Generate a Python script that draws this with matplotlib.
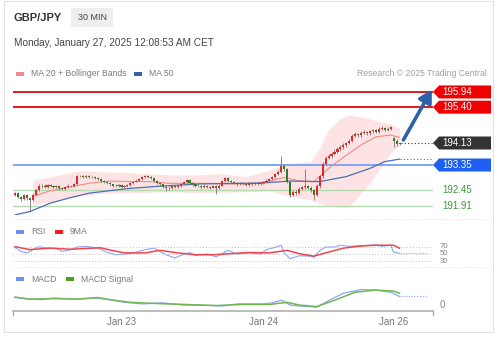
import numpy as np
import matplotlib
matplotlib.use("Agg")
import matplotlib.pyplot as plt
from matplotlib.patches import Polygon, Rectangle
from matplotlib.lines import Line2D
from matplotlib.transforms import blended_transform_factory

plt.rcParams['font.family'] = ['Liberation Sans', 'DejaVu Sans']

W, H = 504, 341

# --- 30 min candles, bar index 0..130 (Sunday session starts at 128)
closes = [
    192.35, 192.22, 192.15, 192.28, 192.18, 192.12, 192.30, 192.45, 192.60, 192.62,
    192.58, 192.63, 192.60, 192.57, 192.61, 192.52, 192.50, 192.58, 192.62, 192.60,
    192.66, 192.95, 192.96, 192.93, 192.95, 192.92, 192.93, 192.90, 192.86, 192.80,
    192.74, 192.70, 192.66, 192.62, 192.60, 192.63, 192.58, 192.61, 192.64, 192.70,
    192.76, 192.80, 192.86, 192.92, 192.95, 192.93, 192.88, 192.80, 192.72, 192.66,
    192.58, 192.52, 192.55, 192.60, 192.58, 192.62, 192.66, 192.75, 192.82, 192.70,
    192.66, 192.62, 192.60, 192.56, 192.62, 192.58, 192.55, 192.60, 192.52, 192.62,
    192.78, 192.88, 192.80, 192.74, 192.70, 192.66, 192.72, 192.68, 192.64, 192.70,
    192.66, 192.70, 192.68, 192.72, 192.76, 192.80, 192.86, 192.92, 193.02, 193.10,
    193.30, 193.20, 192.75, 192.30, 192.40, 192.36, 192.50, 192.56, 192.60, 192.55,
    192.45, 192.30, 192.60, 192.95, 193.40, 193.60, 193.66, 193.75, 193.82, 193.90,
    193.98, 194.05, 194.12, 194.20, 194.38, 194.45, 194.40, 194.48, 194.52, 194.47,
    194.55, 194.58, 194.53, 194.62, 194.66, 194.60, 194.64, 194.68, 194.20, 194.08,
    194.13]
highs = [
    192.40, 192.38, 192.26, 192.32, 192.31, 192.22, 192.34, 192.49, 192.66, 192.68,
    192.66, 192.67, 192.66, 192.64, 192.65, 192.63, 192.56, 192.61, 192.66, 192.65,
    192.70, 192.99, 193.00, 192.99, 192.99, 192.98, 192.97, 192.96, 192.93, 192.88,
    192.83, 192.77, 192.73, 192.69, 192.66, 192.67, 192.66, 192.65, 192.68, 192.74,
    192.80, 192.84, 192.90, 192.96, 192.99, 192.98, 192.96, 192.90, 192.82, 192.75,
    192.69, 192.61, 192.59, 192.64, 192.63, 192.66, 192.70, 192.79, 192.87, 192.84,
    192.73, 192.69, 192.66, 192.63, 192.66, 192.65, 192.62, 192.64, 192.63, 192.66,
    192.82, 192.93, 192.91, 192.83, 192.77, 192.73, 192.76, 192.75, 192.71, 192.74,
    192.73, 192.74, 192.74, 192.76, 192.80, 192.84, 192.90, 192.96, 193.06, 193.16,
    193.68, 193.40, 193.24, 192.80, 192.46, 192.45, 192.56, 192.62, 193.20, 192.65,
    192.60, 192.50, 192.66, 193.00, 193.46, 193.68, 193.74, 193.82, 193.90, 193.98,
    194.05, 194.12, 194.18, 194.27, 194.44, 194.52, 194.50, 194.54, 194.58, 194.56,
    194.60, 194.64, 194.62, 194.70, 194.72, 194.69, 194.69, 194.72, 194.34, 194.26,
    194.18]
lows = [
    192.25, 192.17, 192.08, 192.12, 192.12, 191.69, 192.08, 192.27, 192.42, 192.55,
    192.54, 192.55, 192.56, 192.53, 192.54, 192.48, 192.46, 192.47, 192.55, 192.56,
    192.57, 192.63, 192.91, 192.89, 192.90, 192.88, 192.89, 192.86, 192.82, 192.76,
    192.70, 192.66, 192.62, 192.58, 192.56, 192.57, 192.54, 192.55, 192.58, 192.61,
    192.67, 192.73, 192.77, 192.83, 192.89, 192.89, 192.84, 192.76, 192.68, 192.62,
    192.54, 192.44, 192.48, 192.51, 192.54, 192.55, 192.58, 192.63, 192.72, 192.66,
    192.62, 192.58, 192.56, 192.50, 192.53, 192.54, 192.50, 192.52, 192.32, 192.49,
    192.59, 192.75, 192.76, 192.70, 192.66, 192.62, 192.63, 192.64, 192.60, 192.61,
    192.62, 192.63, 192.64, 192.65, 192.69, 192.73, 192.77, 192.83, 192.89, 192.98,
    193.06, 193.12, 192.70, 192.22, 192.26, 192.30, 192.32, 192.46, 192.50, 192.50,
    192.40, 192.10, 192.26, 192.55, 192.90, 193.35, 193.55, 193.60, 193.70, 193.78,
    193.85, 193.93, 194.00, 194.08, 194.16, 194.34, 194.34, 194.36, 194.44, 194.42,
    194.43, 194.50, 194.48, 194.50, 194.58, 194.55, 194.56, 194.60, 194.00, 194.02,
    194.05]
first_open = 192.30
sunday_open = 194.30
sunday_start = 128

# indicators (sampled at bar index)
ma20_x = [6, 12, 19, 25, 32, 39, 46, 52, 63, 73, 80, 86, 91, 96, 101, 106, 112, 117, 122, 127, 130]
ma20_v = [192.23, 192.44, 192.58, 192.70, 192.78, 192.76, 192.76, 192.70, 192.70, 192.68, 192.68,
          192.78, 192.91, 192.79, 192.76, 193.23, 193.70, 194.06, 194.35, 194.41, 194.33]
bb_x = [6, 15, 22, 29, 39, 52, 63, 69, 78, 86, 93, 100, 103, 106, 110, 113, 117, 120, 123, 127, 130]
bb_up = [192.80, 193.00, 193.15, 193.11, 193.08, 193.00, 193.00, 193.05, 192.94, 193.17, 193.41,
         193.47, 193.95, 194.60, 195.00, 195.12, 195.05, 194.98, 194.90, 194.80, 194.65]
bb_lo = [191.95, 192.10, 192.25, 192.35, 192.37, 192.40, 192.37, 192.38, 192.40, 192.44, 192.23,
         192.11, 192.00, 191.90, 191.85, 191.87, 192.35, 192.71, 193.17, 193.80, 194.05]
ma50_x = [0, 5, 12, 19, 25, 32, 39, 49, 63, 76, 83, 93, 103, 112, 120, 125, 130]
ma50_v = [191.58, 191.70, 192.00, 192.20, 192.35, 192.44, 192.52, 192.60, 192.68, 192.70, 192.71,
          192.78, 192.76, 192.94, 193.23, 193.47, 193.56]

rsi_x = [0, 2, 4, 6, 8, 11, 14, 16, 19, 21, 24, 28, 31, 34, 38, 41, 44, 47, 49, 51, 54, 56, 59, 61,
         65, 68, 72, 75, 79, 83, 85, 87, 90, 91, 93, 96, 100, 101, 103, 105, 108, 110, 113, 118,
         122, 124, 127, 128, 130]
rsi_v = [68, 57, 53, 62, 70, 66, 65, 57, 62, 69, 71, 66, 55, 48, 50, 55, 62, 66, 57, 48, 39, 46, 54,
         46, 50, 42, 60, 50, 53, 50, 62, 66, 74, 53, 37, 45, 44, 41, 59, 69, 69, 74, 71, 73, 75, 71,
         74, 55, 52]
ma9_x = [0, 5, 12, 19, 26, 29, 32, 37, 44, 49, 55, 61, 67, 73, 79, 86, 92, 96, 101, 105, 111, 117,
         122, 128, 130]
ma9_v = [70, 62, 66, 63, 66, 67, 61, 53, 53, 60, 53, 48, 48, 51, 54, 53, 60, 51, 44, 53, 66, 72, 74,
         74, 66]

macd_x = [0, 5, 9, 13, 21, 27, 31, 37, 43, 50, 57, 66, 70, 75, 84, 87, 90, 93, 96, 102, 107, 111,
          117, 122, 127, 130]
macd_v = [0.14, 0.11, 0.10, 0.13, 0.11, 0.13, 0.11, 0.05, 0.02, 0.04, 0.0, -0.01, -0.02, 0.02, 0.02,
          0.04, 0.09, 0.0, -0.02, -0.04, 0.11, 0.22, 0.29, 0.28, 0.24, 0.16]
sig_x = [0, 5, 13, 21, 28, 32, 39, 47, 57, 68, 77, 86, 92, 96, 102, 109, 115, 122, 128, 130]
sig_v = [0.15, 0.11, 0.12, 0.11, 0.14, 0.10, 0.05, 0.03, 0.01, -0.01, 0.01, 0.01, 0.05, 0.0, -0.03,
         0.11, 0.24, 0.28, 0.26, 0.22]

resistances = [195.94, 195.40]
support = 193.35
minor_levels = [192.45, 191.91]
last_price = 194.13
rsi_levels = [70, 50, 30]

day_ticks = [36, 84, 128]
day_labels = ['Jan 23', 'Jan 24', 'Jan 26']

XMIN, XMAX = -0.68, 141.3


def add_ax(l, t, r, b):
    return fig.add_axes([l / W, 1 - b / H, (r - l) / W, (b - t) / H])


def fy(y):
    return 1 - y / H


fig = plt.figure(figsize=(W / 100, H / 100), dpi=100)
fig.patch.set_facecolor('white')

# card + header
fig.patches.append(Rectangle((4 / W, fy(332)), 489 / W, 331 / H, transform=fig.transFigure,
                             fc='none', ec='#e2e2e2', lw=0.8))
fig.text(13 / W, fy(18), 'GBP/JPY', fontsize=8, fontweight='bold', color='#333333', va='center')
fig.patches.append(Rectangle((71 / W, fy(27)), 42 / W, 19 / H, transform=fig.transFigure,
                             fc='#eeeeee', ec='none'))
fig.text(92 / W, fy(17.5), '30 MIN', fontsize=6.5, color='#444444', ha='center', va='center')
fig.text(14 / W, fy(43), 'Monday, January 27, 2025 12:08:53 AM CET', fontsize=7.2,
         color='#444444', va='center')


def legend_item(x, y, color, label):
    fig.patches.append(Rectangle((x / W, fy(y + 1.8)), 8 / W, 3.6 / H, transform=fig.transFigure,
                                 fc=color, ec='none'))
    fig.text((x + 15) / W, fy(y), label, fontsize=6.2, color='#7a7a7a', va='center')


legend_item(16, 74, '#f28b8b', 'MA 20 + Bollinger Bands')
legend_item(134, 74, '#3b5fa5', 'MA 50')
fig.text(487 / W, fy(74), 'Research \u00a9 2025 Trading Central', fontsize=6.2, color='#a0a0a0',
         ha='right', va='center')
legend_item(16, 232, '#6d8ff0', 'RSI')
legend_item(55, 232, '#ff1a1a', '9MA')
legend_item(16, 279, '#6d8ff0', 'MACD')
legend_item(66, 279, '#4fa11e', 'MACD Signal')

for ys in (219, 267):
    fig.lines.append(Line2D([13 / W, 493 / W], [fy(ys), fy(ys)], transform=fig.transFigure,
                            color='#d8d8d8', lw=0.6, ls=(0, (1, 2))))

# ---- price panel
ax = add_ax(13, 82, 433, 215)
ax.set_xlim(XMIN, XMAX)
ax.set_ylim(191.577, 196.293)
ax.axis('off')

ax.fill_between(bb_x, bb_lo, bb_up, color='#fde3e3', lw=0, zorder=0)
ax.plot(ma20_x, ma20_v, color='#f28b82', lw=0.8, zorder=2)
ax.plot(ma50_x, ma50_v, color='#4a70b8', lw=0.9, zorder=2)
ax.plot([ma50_x[-1], XMAX], [ma50_v[-1]] * 2, color='#4a70b8', lw=0.8, ls=(0, (1, 2)))

for r in resistances:
    ax.axhline(r, color='#e8141c', lw=1.4, zorder=1)
ax.axhline(support, color='#7ea6f4', lw=1.4, zorder=1)
for m in minor_levels:
    ax.axhline(m, color='#b5dbb0', lw=1.0, zorder=1)

c = np.array(closes)
o = np.array([first_open] + closes[:-1])
o[sunday_start] = sunday_open
xs = np.arange(len(c))
cols = np.where(c >= o, '#e3262b', '#2f7d22')
ax.vlines(xs, lows, highs, color='#777777', lw=0.6, zorder=3)
ax.bar(xs, np.maximum(np.abs(c - o), 0.015), bottom=np.minimum(o, c), width=0.72,
       color=cols, lw=0, zorder=4)

ax.plot([xs[-1] + 0.5, XMAX], [last_price] * 2, color='#333333', lw=0.8, ls=(0, (1, 2)))

ax.annotate('', xy=(140.9, 196.03), xytext=(131.3, 194.24), annotation_clip=False,
            arrowprops=dict(arrowstyle='-|>,head_length=0.75,head_width=0.42', color='#2e62a8',
                            lw=2.6, mutation_scale=10, shrinkA=0, shrinkB=0), zorder=6)

tr = blended_transform_factory(fig.transFigure, ax.transData)
hh = 6.5 / 28.2


def tag(price, fc):
    pts = [(433 / W, price), (439 / W, price + hh), (491 / W, price + hh),
           (491 / W, price - hh), (439 / W, price - hh)]
    ax.add_patch(Polygon(pts, closed=True, transform=tr, fc=fc, ec='none', clip_on=False))
    ax.text(442 / W, price, f'{price:.2f}', transform=tr, color='white', fontsize=7,
            va='center', clip_on=False)


for r in resistances:
    tag(r, '#f00000')
tag(last_price, '#333333')
tag(support, '#1d5ff0')
for m in minor_levels:
    ax.text(442 / W, m, f'{m:.2f}', transform=tr, color='#3c9a3c', fontsize=7, va='center',
            clip_on=False)

# ---- RSI panel
axr = add_ax(13, 238, 433, 266)
axr.set_xlim(XMIN, XMAX)
axr.set_ylim(17.1, 93.8)
axr.axis('off')
trr = blended_transform_factory(fig.transFigure, axr.transData)
for lvl in rsi_levels:
    axr.axhline(lvl, color='#b0b0b0', lw=0.6, ls=(0, (1, 2.5)))
    axr.text(440 / W, lvl, str(lvl), transform=trr, fontsize=5.6, color='#8a8a8a', va='center',
             clip_on=False)
axr.plot(rsi_x, rsi_v, color='#8aa8f4', lw=0.8)
axr.plot(ma9_x, ma9_v, color='#f0454f', lw=1.1)
axr.plot([rsi_x[-1], 139.7], [rsi_v[-1]] * 2, color='#8aa8f4', lw=0.8, ls=(0, (1, 1.5)))

# ---- MACD panel
axm = add_ax(13, 282, 433, 311)
axm.set_xlim(XMIN, XMAX)
axm.set_ylim(-0.113, 0.432)
for s in ('top', 'left', 'right'):
    axm.spines[s].set_visible(False)
axm.spines['bottom'].set_color('#b0b0b0')
axm.spines['bottom'].set_linewidth(1.2)
axm.set_yticks([])
axm.set_xticks(day_ticks, day_labels)
axm.tick_params(axis='x', length=0, pad=4.5, labelsize=7, labelcolor='#777777')
trm = blended_transform_factory(fig.transFigure, axm.transData)
axm.text(440 / W, 0, '0', transform=trm, fontsize=7, color='#8a8a8a', va='center', clip_on=False)
axm.plot(macd_x, macd_v, color='#8aa8f4', lw=0.9)
axm.plot(sig_x, sig_v, color='#72b552', lw=1.1)
axm.plot([macd_x[-1], 139.7], [macd_v[-1]] * 2, color='#8aa8f4', lw=0.8, ls=(0, (1, 1.5)))
for ex in (13, 433):
    fig.lines.append(Line2D([ex / W, ex / W], [fy(311), fy(315)], transform=fig.transFigure,
                            color='#b0b0b0', lw=1.0))

fig.savefig('out.png', dpi=100)
